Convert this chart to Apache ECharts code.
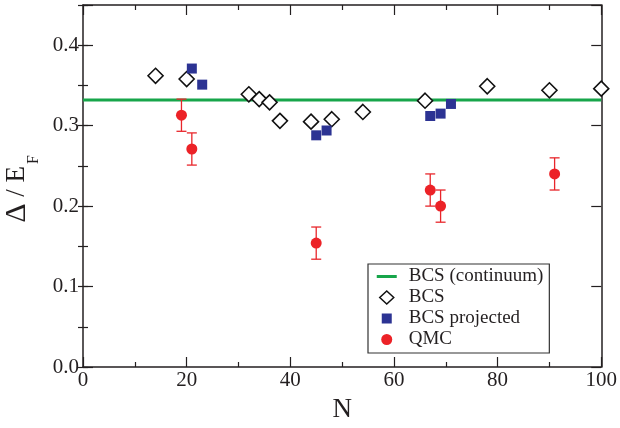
<!DOCTYPE html>
<html>
<head>
<meta charset="utf-8">
<script src="https://cdn.jsdelivr.net/npm/echarts@6/dist/echarts.min.js"></script>
<style>
  html, body { margin: 0; padding: 0; background: #fff; }
  #chart { width: 620px; height: 428px; }
</style>
</head>
<body>
<div id="chart"></div>
<script>
// BCS continuum value (horizontal line)
const continuumGap = 0.332;

// BCS (open diamonds)
const bcsN = [14, 20, 32, 34, 36, 38, 44, 48, 54, 66, 78, 90, 100];
const bcsGap = [0.362, 0.358, 0.339, 0.333, 0.329, 0.306, 0.305, 0.308, 0.317, 0.331, 0.349, 0.344, 0.346];

// BCS projected (filled squares)
const projN = [21, 23, 45, 47, 67, 69, 71];
const projGap = [0.371, 0.351, 0.288, 0.294, 0.312, 0.315, 0.327];

// QMC (filled circles with error bars)
const qmcN = [19, 21, 45, 67, 69, 91];
const qmcGap = [0.313, 0.271, 0.154, 0.220, 0.200, 0.240];
const qmcErr = [0.020, 0.020, 0.020, 0.020, 0.020, 0.020];

const serif = 'Liberation Serif';
const ink = '#231f20';
const green = '#17a54a';
const blue = '#2c3393';
const red = '#ec2227';

const chart = echarts.init(document.getElementById('chart'));

const pairs = (xs, ys) => xs.map((x, i) => [x, ys[i]]);

// legend icons: the first two moves pin the icon box to 22x14 so nothing gets stretched
const box = 'path://M0,0 M22,14 ';
const icons = {
    line: box + 'M1,5.5 L21,5.5 L21,8.5 L1,8.5 Z',
    diamond: box + 'M11,0.5 L18,7 L11,13.5 L4,7 Z',
    square: box + 'M6,2 L16,2 L16,12 L6,12 Z',
    circle: box + 'M16.5,7 A5.5,5.5 0 1 1 5.5,7 A5.5,5.5 0 1 1 16.5,7 Z'
};

const xBase = {
    type: 'value',
    min: 0,
    max: 100,
    interval: 20,
    splitLine: { show: false },
    axisLine: { onZero: false, lineStyle: { color: ink, width: 1.5 } },
    axisTick: { inside: true, length: 10, lineStyle: { color: ink, width: 1.2 } },
    minorTick: { show: true, splitNumber: 2, length: 5, lineStyle: { color: ink, width: 1.2 } }
};

const yMajor = {
    type: 'value',
    min: 0,
    max: 0.45,
    interval: 0.1,
    splitLine: { show: false },
    axisLine: { onZero: false, lineStyle: { color: ink, width: 1.5 } },
    axisTick: { inside: true, length: 10, lineStyle: { color: ink, width: 1.2 } }
};

const yMinor = {
    type: 'value',
    min: 0,
    max: 0.45,
    interval: 0.05,
    splitLine: { show: false },
    axisLine: { show: false },
    axisLabel: { show: false },
    axisTick: { inside: true, length: 5, lineStyle: { color: ink, width: 1.2 } }
};

chart.setOption({
    animation: false,
    backgroundColor: '#fff',
    grid: { left: 83, right: 18, top: 5, bottom: 59 },
    xAxis: [
        Object.assign({}, xBase, {
            position: 'bottom',
            name: 'N',
            nameLocation: 'middle',
            nameGap: 29,
            nameTextStyle: { fontFamily: serif, fontSize: 27, color: ink },
            axisLabel: { margin: 3, fontFamily: serif, fontSize: 21, color: ink }
        }),
        Object.assign({}, xBase, { position: 'top', axisLabel: { show: false } })
    ],
    yAxis: [
        Object.assign({}, yMajor, {
            position: 'left',
            axisLabel: {
                margin: 4,
                fontFamily: serif,
                fontSize: 21,
                color: ink,
                formatter: v => (v > 0.41 ? '' : v.toFixed(1))
            }
        }),
        Object.assign({}, yMinor, { position: 'left' }),
        Object.assign({}, yMajor, { position: 'right', axisLabel: { show: false } }),
        Object.assign({}, yMinor, { position: 'right' })
    ],
    legend: {
        orient: 'vertical',
        left: 368,
        top: 264,
        padding: [3, 6, 4, 7],
        itemGap: 2,
        itemWidth: 22,
        itemHeight: 14,
        borderColor: '#333',
        borderWidth: 1.2,
        textStyle: { fontFamily: serif, fontSize: 19, lineHeight: 19, color: ink, padding: [0, 0, 0, 6] },
        data: [
            { name: 'BCS (continuum)', icon: icons.line },
            { name: 'BCS', icon: icons.diamond, itemStyle: { borderWidth: 1.5 } },
            { name: 'BCS projected', icon: icons.square },
            { name: 'QMC', icon: icons.circle }
        ]
    },
    graphic: [
        {
            type: 'group',
            x: 32,
            y: 166,
            rotation: Math.PI / 2,
            children: [
                {
                    type: 'text',
                    x: 0,
                    y: 0,
                    style: {
                        text: '{d|Δ} / E',
                        fontFamily: serif,
                        fontSize: 27,
                        fill: ink,
                        textAlign: 'right',
                        textVerticalAlign: 'bottom',
                        rich: { d: { fontFamily: serif, fontSize: 30, fill: ink } }
                    }
                },
                {
                    type: 'text',
                    x: 2,
                    y: 10,
                    style: { text: 'F', fontFamily: serif, fontSize: 16, fill: ink, textAlign: 'left', textVerticalAlign: 'bottom' }
                }
            ]
        }
    ],
    series: [
        {
            name: 'BCS (continuum)',
            type: 'line',
            symbol: 'none',
            data: [[0, continuumGap], [100, continuumGap]],
            lineStyle: { color: green, width: 3 },
            itemStyle: { color: green },
            z: 1
        },
        {
            name: 'BCS',
            type: 'scatter',
            symbol: 'diamond',
            symbolSize: 15,
            data: pairs(bcsN, bcsGap),
            itemStyle: { color: '#fff', borderColor: '#111', borderWidth: 1.6, opacity: 1 },
            z: 2
        },
        {
            name: 'BCS projected',
            type: 'scatter',
            symbol: 'rect',
            symbolSize: 10,
            data: pairs(projN, projGap),
            itemStyle: { color: blue, opacity: 1 },
            z: 3
        },
        {
            name: 'QMC error',
            type: 'custom',
            data: qmcN.map((n, i) => [n, qmcGap[i] - qmcErr[i], qmcGap[i] + qmcErr[i]]),
            renderItem: (params, api) => {
                const lo = api.coord([api.value(0), api.value(1)]);
                const hi = api.coord([api.value(0), api.value(2)]);
                const hw = 5;
                const style = { stroke: '#e8262b', lineWidth: 1.3 };
                return {
                    type: 'group',
                    children: [
                        { type: 'line', shape: { x1: lo[0], y1: lo[1], x2: hi[0], y2: hi[1] }, style },
                        { type: 'line', shape: { x1: lo[0] - hw, y1: lo[1], x2: lo[0] + hw, y2: lo[1] }, style },
                        { type: 'line', shape: { x1: hi[0] - hw, y1: hi[1], x2: hi[0] + hw, y2: hi[1] }, style }
                    ]
                };
            },
            z: 4
        },
        {
            name: 'QMC',
            type: 'scatter',
            symbol: 'circle',
            symbolSize: 11,
            data: pairs(qmcN, qmcGap),
            itemStyle: { color: red, opacity: 1 },
            z: 5
        }
    ]
});
</script>
</body>
</html>
